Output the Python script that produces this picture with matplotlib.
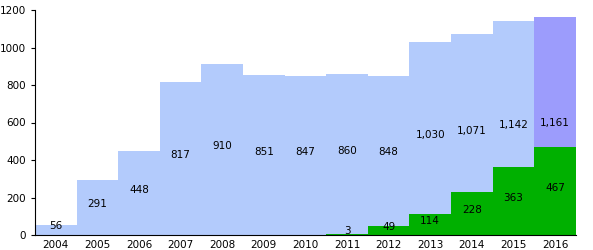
import numpy as np
import matplotlib.pyplot as plt

years = [2004, 2005, 2006, 2007, 2008, 2009, 2010, 2011, 2012, 2013, 2014, 2015, 2016]
total = [56, 291, 448, 817, 910, 851, 847, 860, 848, 1030, 1071, 1142, 1161]
green_years = [2011, 2012, 2013, 2014, 2015, 2016]
green = [3, 49, 114, 228, 363, 467]

fig = plt.figure(figsize=(5.93, 2.5), dpi=100)
ax = fig.add_axes([0.059, 0.06, 0.912, 0.9])

cols = ['#b3cbfc'] * (len(years) - 1) + ['#9c9cfc']
ax.bar(years, total, width=1.0, color=cols, linewidth=0)
ax.bar(green_years, green, width=1.0, color='#00b000', linewidth=0)

for y, v in zip(years, total):
    ax.text(y, v / 2 + 18, format(v, ','), ha='center', va='center', fontsize=7.5)
for y, v in zip(green_years, green):
    ax.text(y, v / 2 + 18, format(v, ','), ha='center', va='center', fontsize=7.5)

ax.set_xlim(2003.5, 2016.5)
ax.set_ylim(0, 1200)
ax.set_xticks(years)
ax.set_yticks(range(0, 1201, 200))
ax.tick_params(labelsize=7.5, length=3)
ax.tick_params(axis='x', length=0)
ax.spines['top'].set_visible(False)
ax.spines['right'].set_visible(False)

fig.savefig('out.png')
